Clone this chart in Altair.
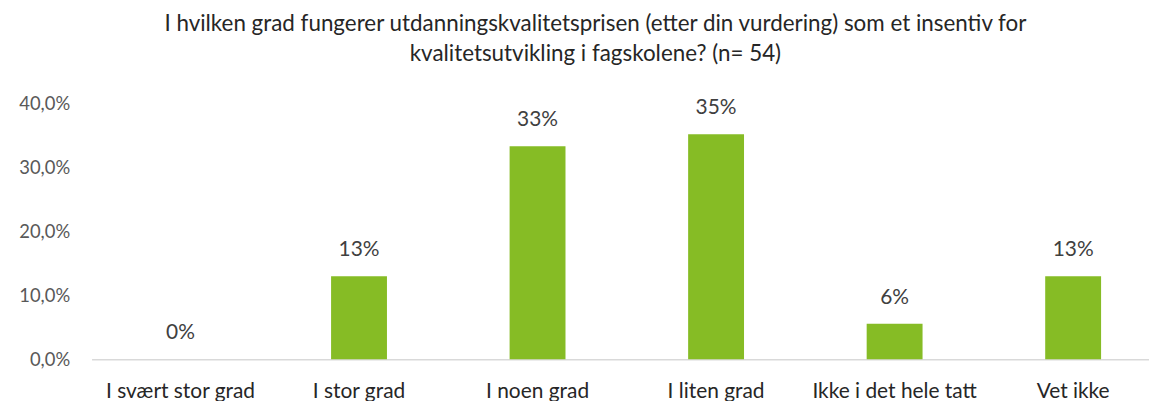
import altair as alt
import pandas as pd

categories = ["I svært stor grad", "I stor grad", "I noen grad", "I liten grad", "Ikke i det hele tatt", "Vet ikke"]
values = [0.0, 0.1296, 0.3333, 0.3519, 0.0556, 0.1296]
labels = ["0%", "13%", "33%", "35%", "6%", "13%"]
y_ticks = [0.0, 0.1, 0.2, 0.3, 0.4]
title_lines = ["I hvilken grad fungerer utdanningskvalitetsprisen (etter din vurdering) som et insentiv for",
               "kvalitetsutvikling i fagskolene? (n= 54)"]

df = pd.DataFrame({"cat": categories, "val": values, "lab": labels})

FONT = "Lato"
GREEN = "#86BC25"

x = alt.X("cat:N", sort=categories, title=None,
          scale=alt.Scale(paddingInner=0.687, paddingOuter=0.305, align=0.56),
          axis=alt.Axis(labelAngle=0, labelFont=FONT, labelFontSize=21, labelColor="#262626",
                        labelPadding=22, ticks=False, domainColor="#D9D9D9", domainWidth=1.5,
                        labelLimit=300))
y = alt.Y("val:Q", title=None,
          scale=alt.Scale(domain=[0, 0.4], nice=False),
          axis=alt.Axis(values=y_ticks, labelExpr="replace(format(datum.value, '.1%'), '.', ',')",
                        labelFont=FONT, labelFontSize=18.5, labelColor="#595959", grid=False,
                        domain=False, ticks=False, labelPadding=22))

bars = alt.Chart(df).mark_bar(color=GREEN).encode(x=x, y=y)
text = alt.Chart(df).mark_text(baseline="bottom", dy=-16, font=FONT, fontSize=21, color="#404040").encode(
    x=alt.X("cat:N", sort=categories), y="val:Q", text="lab:N")

chart = alt.layer(bars, text).properties(
    width=1063, height=257,
    title=alt.TitleParams(text=title_lines, font=FONT, fontSize=22.5, fontWeight="normal",
                          color="#262626", anchor="middle", lineHeight=30, offset=29, dx=-25),
    autosize=alt.AutoSizeParams(type="none"),
    padding={"left": 84, "top": 95, "right": 0, "bottom": 41},
).configure_view(stroke=None)

chart.save("out.html", embed_options={"renderer": "svg", "actions": False})
